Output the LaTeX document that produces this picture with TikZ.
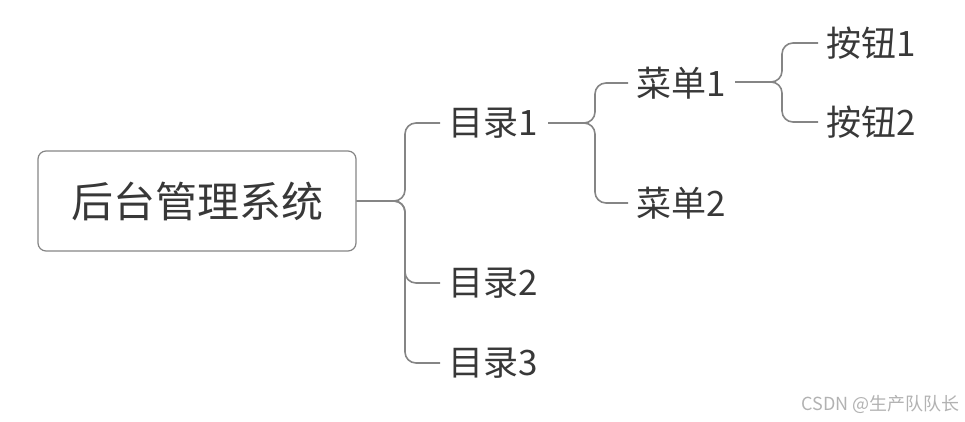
\documentclass[tikz,border=0pt]{standalone}
\usepackage{fontspec}
\setmainfont{Noto Sans CJK SC}
\begin{document}
\begin{tikzpicture}[x=1pt,y=-1pt,
  lnk/.style={draw=black!48,line width=1.6pt,rounded corners=11pt},
  lbl/.style={text=black!78,anchor=west,inner sep=0pt,font=\fontsize{35}{40}\selectfont},
  wm/.style={text=black!30,anchor=east,inner sep=0pt,font=\fontsize{18}{20}\selectfont}]
\useasboundingbox (0,0) rectangle (965,422);
\node[draw=black!48,line width=1.2pt,rounded corners=8pt,minimum width=318pt,minimum height=100pt,text=black!78,font=\fontsize{42}{48}\selectfont] (root) at (197,201) {后台管理系统};
\node[lbl] (m1) at (448,123) {目录1};
\node[lbl] (m2) at (448,283) {目录2};
\node[lbl] (m3) at (448,363) {目录3};
\node[lbl] (c1) at (636,83) {菜单1};
\node[lbl] (c2) at (636,203) {菜单2};
\node[lbl] (b1) at (826,43) {按钮1};
\node[lbl] (b2) at (826,122) {按钮2};
\node[wm] (w) at (960,404) {CSDN @生产队队长};
\foreach \c in {m1,m2,m3}
  \draw[lnk] (root.east) -- (405,201) -- (405,0 |- \c.west) -- ([xshift=-8pt]\c.west);
\coordinate (p1) at (548,123);
\foreach \c in {c1,c2}
  \draw[lnk] (p1) -- (595,0 |- p1) -- (595,0 |- \c.west) -- ([xshift=-8pt]\c.west);
\coordinate (p2) at (735,82);
\foreach \c in {b1,b2}
  \draw[lnk] (p2) -- (782,0 |- p2) -- (782,0 |- \c.west) -- ([xshift=-8pt]\c.west);
\end{tikzpicture}
\end{document}
